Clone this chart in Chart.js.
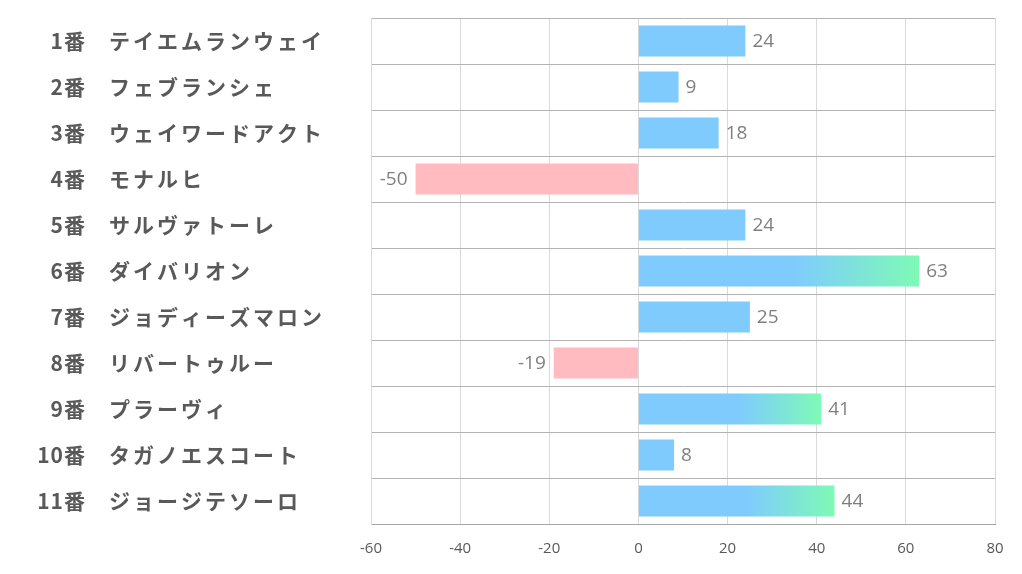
<!DOCTYPE html>
<html>
<head>
<meta charset="utf-8">
<script src="https://cdn.jsdelivr.net/npm/chart.js@4"></script>
<style>
  html, body { margin: 0; padding: 0; background: #fff; }
  #wrap { width: 1022px; height: 574px; }
</style>
</head>
<body>
<div id="wrap"><canvas id="horseChart"></canvas></div>
<script>
const numbers = ["1番", "2番", "3番", "4番", "5番", "6番", "7番", "8番", "9番", "10番", "11番"];
const horses = ["テイエムランウェイ", "フェブランシェ", "ウェイワードアクト", "モナルヒ", "サルヴァトーレ",
  "ダイバリオン", "ジョディーズマロン", "リバートゥルー", "プラーヴィ", "タガノエスコート", "ジョージテソーロ"];
const scores = [24, 9, 18, -50, 24, 63, 25, -19, 41, 8, 44];
const xTicks = [-60, -40, -20, 0, 20, 40, 60, 80];

const BLUE = "#7fcbfe";
const GREEN = "#7efab6";
const PINK = "#ffbbbf";
const JP = "'Noto Sans CJK JP', 'Noto Sans', sans-serif";

function barColor(c) {
  const v = c.raw;
  if (v < 0) return PINK;
  if (v <= 30) return BLUE;
  const chart = c.chart;
  if (!chart.chartArea) return BLUE;
  const x = chart.scales.x;
  const g = chart.ctx.createLinearGradient(x.getPixelForValue(v * 0.55), 0, x.getPixelForValue(v), 0);
  g.addColorStop(0, BLUE);
  g.addColorStop(1, GREEN);
  return g;
}

// row labels: number right-aligned, name left-aligned
const rowLabels = {
  id: "rowLabels",
  afterDraw(chart) {
    const ctx = chart.ctx;
    const y = chart.scales.y;
    ctx.save();
    ctx.fillStyle = "#595959";
    ctx.textBaseline = "middle";
    numbers.forEach((n, i) => {
      const py = y.getPixelForValue(i);
      ctx.font = "bold 21px " + JP;
      ctx.letterSpacing = "1px";
      ctx.textAlign = "right";
      ctx.fillText(n, 86, py);
      ctx.letterSpacing = "3px";
      ctx.textAlign = "left";
      ctx.fillText(horses[i], 109, py);
    });
    ctx.restore();
  }
};

// value labels beside bar ends
const valueLabels = {
  id: "valueLabels",
  afterDatasetsDraw(chart) {
    const ctx = chart.ctx;
    const meta = chart.getDatasetMeta(0);
    ctx.save();
    ctx.font = "19px 'Open Sans', sans-serif";
    ctx.fillStyle = "#7f7f7f";
    ctx.textBaseline = "middle";
    meta.data.forEach((bar, i) => {
      const v = scores[i];
      if (v < 0) {
        ctx.textAlign = "right";
        ctx.fillText(String(v), bar.x - 8, bar.y + 1);
      } else {
        ctx.textAlign = "left";
        ctx.fillText(String(v), bar.x + 7, bar.y + 1);
      }
    });
    ctx.restore();
  }
};

new Chart(document.getElementById("horseChart"), {
  type: "bar",
  data: {
    labels: horses,
    datasets: [{
      data: scores,
      backgroundColor: barColor,
      borderWidth: 0,
      categoryPercentage: 1,
      barPercentage: 0.67
    }]
  },
  options: {
    indexAxis: "y",
    responsive: true,
    maintainAspectRatio: false,
    animation: false,
    layout: { padding: { top: 18, right: 27, left: 0, bottom: 0 } },
    plugins: {
      legend: { display: false },
      tooltip: { enabled: false }
    },
    scales: {
      x: {
        min: -60,
        max: 80,
        afterBuildTicks(scale) {
          scale.ticks = xTicks.map(v => ({ value: v }));
        },
        afterFit(scale) { scale.height = 50; },
        grid: { color: "#d9d9d9", drawTicks: false },
        border: { color: "#a6a6a6" },
        ticks: {
          padding: 16,
          color: "#595959",
          font: { size: 15, family: "'Open Sans', sans-serif" }
        }
      },
      y: {
        afterFit(scale) { scale.width = 371; },
        grid: { color: "#b3b3b3", drawTicks: false },
        border: { color: "#d9d9d9" },
        ticks: { display: false }
      }
    }
  },
  plugins: [rowLabels, valueLabels]
});
</script>
</body>
</html>
